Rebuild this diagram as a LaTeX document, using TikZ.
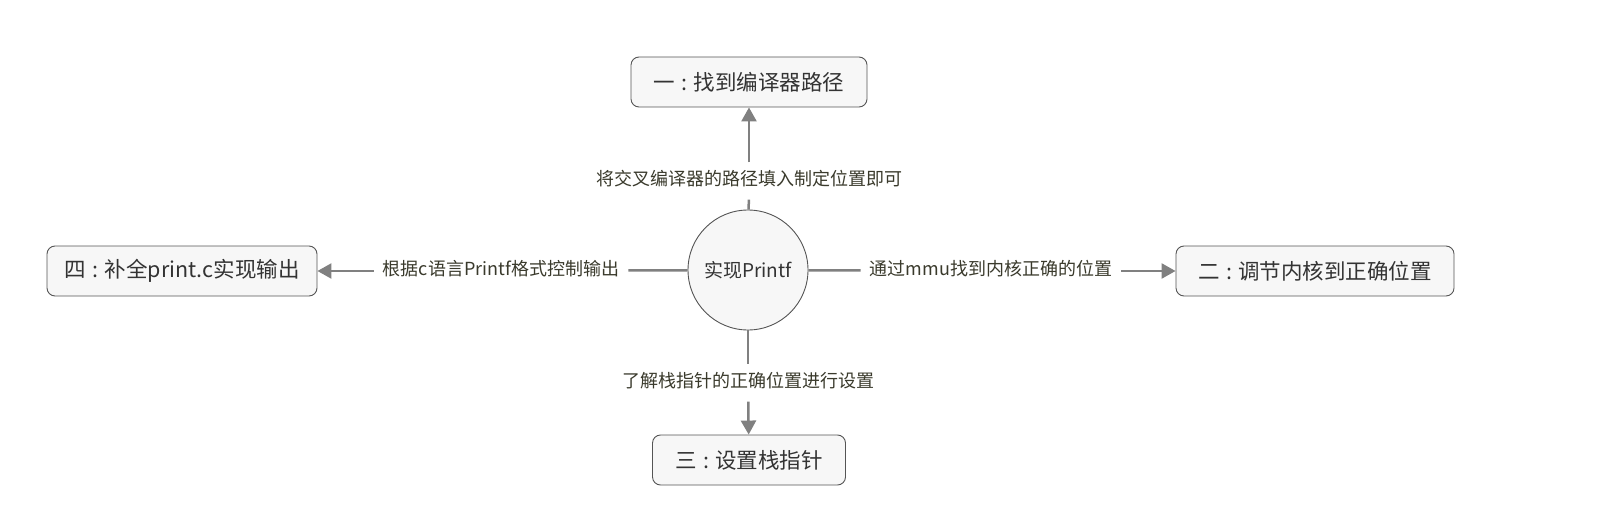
\documentclass[tikz,border=0pt]{standalone}
\usepackage{fontspec}
\setmainfont{Noto Sans CJK SC}
\usetikzlibrary{arrows.meta}
\definecolor{boxline}{HTML}{555555}
\definecolor{boxfill}{HTML}{F7F7F7}
\definecolor{boxtext}{HTML}{333333}
\definecolor{lbltext}{HTML}{3A3A2C}
\definecolor{conncol}{HTML}{808080}
\newcommand{\colsep}{\hspace{0.3em}:\hspace{0.3em}}
\begin{document}
\begin{tikzpicture}[x=1pt,y=-1pt,
  box/.style={draw=boxline, fill=boxfill, rounded corners=8pt, line width=0.9pt,
    minimum height=50pt, text=boxtext, font=\fontsize{21.5}{25}\selectfont, inner sep=0pt},
  lbl/.style={text=lbltext, font=\fontsize{18}{21}\selectfont, inner xsep=9pt, inner ysep=10pt,
    text height=13pt, text depth=4pt},
  conn/.style={draw=conncol, line width=2.5pt},
  arr/.style={conn, -{Triangle[length=14pt,width=15pt]}}]
\path[use as bounding box] (0,0) rectangle (1614,508);

\node[circle, draw=boxline, fill=boxfill, minimum size=120pt, inner sep=0pt, line width=0.9pt,
  text=boxtext, font=\fontsize{19}{23}\selectfont] (c) at (748,270) {实现Printf};

\node[box, minimum width=236pt] (t) at (749,82) {一\colsep{}找到编译器路径};
\node[box, minimum width=270pt] (l) at (182,271) {四\colsep{}补全print.c实现输出};
\node[box, minimum width=278pt] (r) at (1315,271) {二\colsep{}调节内核到正确位置};
\node[box, minimum width=193pt] (b) at (749,460) {三\colsep{}设置栈指针};

\node[lbl] (lt) at (749,181) {将交叉编译器的路径填入制定位置即可};
\node[lbl] (ll) at (501,271) {根据c语言Printf格式控制输出};
\node[lbl] (lr) at (991,271) {通过mmu找到内核正确的位置};
\node[lbl] (lb) at (748,383) {了解栈指针的正确位置进行设置};

\draw[conn] (c) -- (lt);
\draw[arr] (lt) -- (t);
\draw[conn] (c) -- (ll);
\draw[arr] (ll) -- (l);
\draw[conn] (c) -- (lr);
\draw[arr] (lr) -- (r);
\draw[conn] (c) -- (lb);
\draw[arr] (lb) -- (b);
\end{tikzpicture}
\end{document}
